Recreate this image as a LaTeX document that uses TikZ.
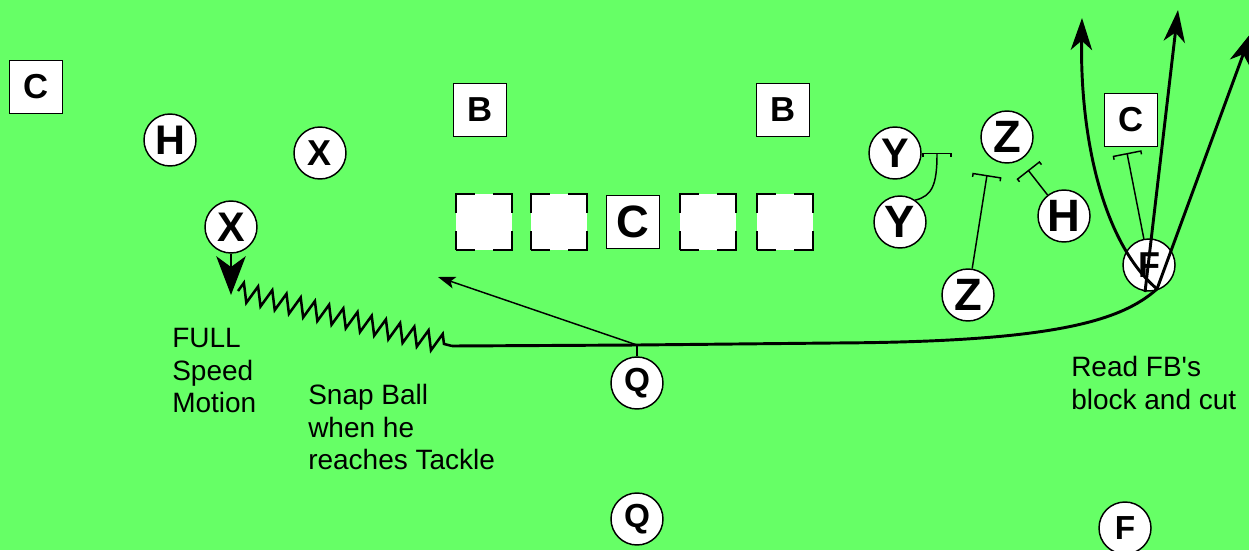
\documentclass[tikz,border=0pt]{standalone}
\usepackage{fontspec}
\newfontfamily\arial{Liberation Sans}
\usetikzlibrary{shapes,arrows,arrows.meta,positioning,fit,calc,decorations.pathmorphing}
\definecolor{turf}{RGB}{102,255,102}

\begin{document}
\begin{tikzpicture}[
    x=0.75pt, y=-0.75pt,
    player/.style={circle, draw, fill=white, line width=1.1pt, minimum size=39pt, inner sep=0pt, font=\arial\bfseries\fontsize{27}{27}\selectfont},
    defender/.style={rectangle, draw, fill=white, line width=1.1pt, minimum size=40pt, inner sep=0pt, font=\arial\bfseries\fontsize{26}{26}\selectfont},
    lineman/.style={rectangle, draw, fill=white, line width=2.2pt, minimum size=42pt, inner sep=0pt, dash pattern=on 28pt off 14pt, dash phase=14pt},
    bigtxt/.style={font=\arial\bfseries\fontsize{34}{34}\selectfont},
    midtxt/.style={font=\arial\bfseries\fontsize{31}{31}\selectfont},
    smltxt/.style={font=\arial\bfseries\fontsize{25}{25}\selectfont},
    note/.style={anchor=north west, inner sep=0pt, align=left, font=\arial\fontsize{21}{24.5}\selectfont},
    route/.style={line width=2.2pt, -{Stealth[length=24pt, width=16pt, inset=7pt]}},
    blocker/.style={line width=1.1pt, -{Bracket[width=22pt, length=2.5pt]}},
    motion/.style={line width=2.2pt, -{Stealth[length=29pt, width=22pt, inset=8pt]}}
]
    \useasboundingbox (0,0) rectangle (1249,550);
    \fill[turf] (0,0) rectangle (1249,550);

    % defense
    \node[defender] (cl) at (36,87) {C};
    \node[player, midtxt] (hl) at (170,140) {H};
    \node[player] (xs) at (320,153) {X};
    \node[defender] (bl) at (480,110) {B};
    \node[defender] (br) at (783,110) {B};
    \node[player, midtxt] (ya) at (895,153) {Y};
    \node[player, bigtxt] (za) at (1007,137) {Z};
    \node[defender] (cr) at (1131,120) {C};

    % offense
    \node[player, midtxt] (xm) at (231,227) {X};
    \node[lineman] (lt) at (484,222) {};
    \node[lineman] (lg) at (559,222) {};
    \node[defender, bigtxt] (ce) at (633,222) {C};
    \node[lineman] (rg) at (708,222) {};
    \node[lineman] (rt) at (785,222) {};
    \node[player, bigtxt] (yb) at (900,222) {Y};
    \node[player, bigtxt] (hr) at (1064,216) {H};
    \node[player, bigtxt] (zb) at (968,295) {Z};
    \node[player] (fb) at (1149,265) {F};
    \node[player, smltxt] (qb) at (637,383) {Q};
    \node[player, smltxt] (qs) at (637,519) {Q};
    \node[player, smltxt] (fs) at (1125,528) {F};

    % notes
    \node[note] (fullnote) at (172,328) {FULL\\Speed\\Motion};
    \node[note] (snapnote) at (308,384) {Snap Ball\\when he\\reaches Tackle};
    \node[note] (readnote) at (1071,356) {Read FB\char39 s\\block and cut};

    % motion and snap
    \coordinate (mtip) at (231,295);
    \coordinate (zstart) at (238,291);
    \coordinate (snap) at (452,346);
    \draw[motion] (xm) -- (mtip);
    \draw[line width=1.9pt, decorate, decoration={zigzag, segment length=11pt, amplitude=7pt, post length=4pt}] (zstart) -- (snap);

    % QB path and toss
    \coordinate (qmesh) at (637,345);
    \coordinate (bend) at (833,343);
    \coordinate (cut) at (1157,289);
    \coordinate (cutm) at (1145,292);
    \coordinate (toss) at (438,277);
    \draw[line width=2.2pt] (snap) -- (qmesh) -- (bend);
    \draw[line width=2.2pt] (bend) .. controls (1050,342) and (1120,322) .. (cut);
    \draw[line width=1.1pt] (qb) -- (qmesh);
    \draw[line width=1.1pt, -{Stealth[length=13pt, width=9pt, inset=3pt]}] (qmesh) -- (toss);

    % read routes
    \coordinate (wide) at (1082,18);
    \coordinate (deep) at (1178,10);
    \coordinate (fade) at (1251,33);
    \draw[route] (cut) .. controls (1100,240) and (1080,130) .. (wide);
    \draw[route] (cutm) -- (deep);
    \draw[route] (cut) -- (fade);

    % blocks
    \coordinate (yblk) at (937,153);
    \coordinate (zblk) at (987,175);
    \coordinate (hblk) at (1028,170);
    \coordinate (fblk) at (1127,153);
    \draw[blocker] (yb.55) .. controls (932,196) and (937,185) .. (yblk);
    \draw[blocker] (zb) -- (zblk);
    \draw[blocker] (hr) -- (hblk);
    \draw[blocker] (fb) -- (fblk);
\end{tikzpicture}
\end{document}
